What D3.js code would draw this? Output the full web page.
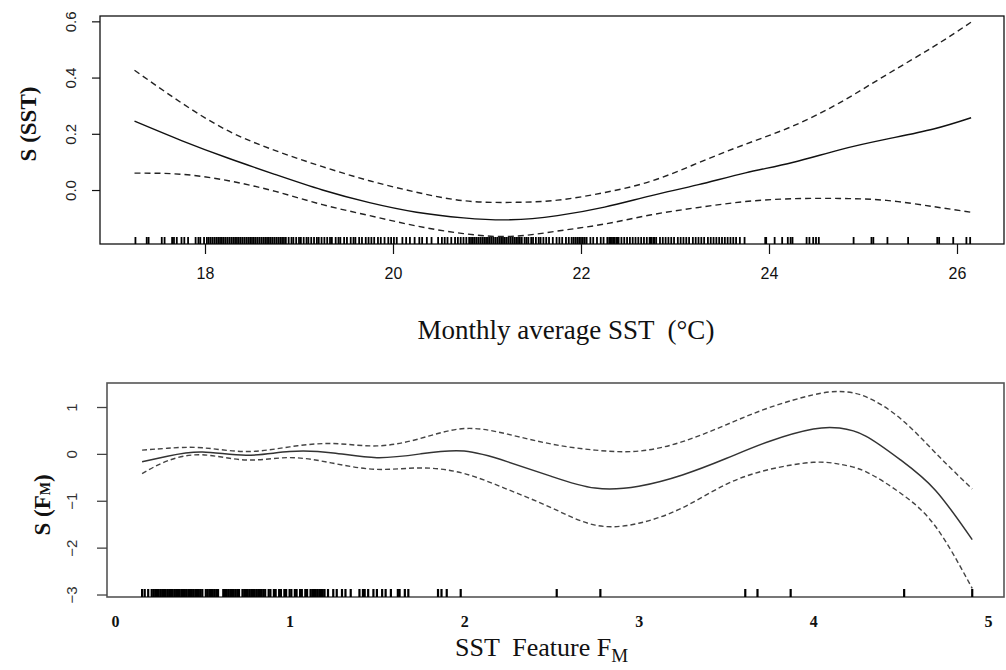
<!DOCTYPE html>
<html><head><meta charset="utf-8">
<script src="https://cdn.jsdelivr.net/npm/d3@7"></script>
<style>body{margin:0;background:#fff}svg{display:block}text{white-space:pre}</style>
</head><body>
<script>
// ---------- Top panel data: S(SST) ----------
const sstX     = [17.25,17.75,18.25,18.75,19.25,19.75,20.25,20.75,21.25,21.75,22.25,22.75,23.25,23.75,24.25,24.75,25.25,25.75,26.15];
const sstFit   = [0.245,0.176,0.113,0.055,0.000,-0.045,-0.079,-0.099,-0.106,-0.091,-0.061,-0.020,0.019,0.061,0.098,0.143,0.181,0.217,0.257];
const sstUpper = [0.426,0.310,0.210,0.140,0.083,0.033,-0.008,-0.038,-0.044,-0.036,-0.009,0.032,0.097,0.163,0.227,0.310,0.410,0.510,0.597];
const sstLower = [0.060,0.056,0.033,-0.005,-0.052,-0.091,-0.128,-0.155,-0.165,-0.146,-0.121,-0.088,-0.062,-0.041,-0.031,-0.030,-0.037,-0.059,-0.079];
const sstTicksX = [18,20,22,24,26];
const sstTicksY = [0.0,0.2,0.4,0.6];
const sstTickLabelsY = ["0.0","0.2","0.4","0.6"];
const sstRug = [17.26,17.38,17.40,17.54,17.57,17.65,17.67,17.70,17.75,17.78,17.82,17.90,17.93,17.95,17.99,
18.02,18.04,18.06,18.08,18.10,18.12,18.14,18.16,18.18,18.20,18.22,18.24,18.26,18.28,18.30,18.32,18.34,18.36,18.38,18.40,18.42,18.44,18.46,18.48,18.50,18.52,18.54,18.56,18.58,18.60,18.62,18.64,18.66,18.68,18.70,18.72,18.74,18.76,18.78,18.80,18.82,18.84,18.86,
18.89,18.92,18.94,18.97,19.00,19.02,19.05,19.08,19.10,19.13,19.16,19.19,19.21,19.24,19.27,19.30,19.33,19.35,
19.39,19.42,19.44,19.48,19.51,19.55,19.58,19.60,19.64,19.67,19.71,19.74,19.77,19.80,19.84,19.87,19.91,19.95,19.98,20.01,20.04,
20.10,20.14,20.18,20.23,20.28,20.31,20.36,20.41,
20.48,20.52,20.55,20.58,20.62,20.66,20.69,20.72,20.75,20.78,
20.81,20.83,20.85,20.87,20.89,20.91,20.93,20.95,20.97,20.99,21.01,21.03,21.05,21.07,21.09,21.11,21.13,21.15,21.17,21.19,21.21,21.23,21.25,21.27,21.29,21.31,21.33,21.35,21.37,21.40,21.42,21.44,21.47,21.49,21.52,21.55,21.57,21.60,21.63,21.66,
21.70,21.74,21.77,21.80,21.84,21.87,
21.90,21.92,21.94,21.96,21.98,22.00,22.02,22.04,22.06,
22.10,22.13,22.17,22.21,22.24,22.28,
22.30,22.31,22.32,22.34,22.35,22.36,22.38,22.39,22.40,
22.43,22.46,22.49,22.52,22.55,22.58,22.61,22.64,22.67,22.70,
22.73,22.74,22.75,22.77,22.78,22.80,
22.84,22.87,22.90,22.93,22.96,22.99,23.03,23.06,23.09,23.12,23.15,23.19,23.22,23.25,23.28,23.31,23.35,23.38,23.41,23.44,23.47,23.50,23.53,23.56,23.59,23.62,23.65,23.69,23.74,
23.96,23.97,24.06,24.14,24.20,24.23,24.25,24.40,24.43,24.47,24.50,24.53,24.90,25.09,25.11,25.26,25.48,25.79,25.81,25.96,26.10,26.14];

// ---------- Bottom panel data: S(FM) ----------
const fmX     = [0.155,0.3,0.5,0.75,1.0,1.25,1.5,1.75,2.0,2.25,2.5,2.75,3.0,3.25,3.5,3.75,4.0,4.15,4.3,4.5,4.7,4.91];
const fmFit   = [-0.17,-0.05,0.04,-0.03,0.05,0.02,-0.08,0.00,0.06,-0.17,-0.48,-0.73,-0.69,-0.45,-0.10,0.27,0.53,0.55,0.38,-0.13,-0.78,-1.83];
const fmUpper = [0.08,0.12,0.13,0.05,0.15,0.22,0.17,0.33,0.54,0.42,0.21,0.08,0.06,0.26,0.62,0.99,1.26,1.33,1.22,0.75,0.02,-0.75];
const fmLower = [-0.42,-0.15,-0.02,-0.13,-0.08,-0.20,-0.33,-0.30,-0.42,-0.76,-1.15,-1.52,-1.48,-1.15,-0.65,-0.33,-0.18,-0.22,-0.38,-0.84,-1.55,-2.87];
const fmTicksX = [0,1,2,3,4,5];
const fmTicksY = [1,0,-1,-2,-3];
const fmRug = [0.155,0.17,0.19,
0.21,0.22,0.23,0.24,0.25,0.26,0.27,0.28,0.29,0.30,0.31,0.32,0.33,0.34,0.35,0.36,0.37,0.38,0.39,0.40,0.41,0.42,0.43,0.44,0.45,0.46,0.47,0.48,0.49,0.50,
0.52,0.53,0.54,0.55,0.56,0.57,0.58,0.59,
0.62,0.63,0.64,0.65,0.66,0.67,0.68,0.69,0.70,0.71,
0.73,0.74,0.75,0.76,0.77,0.78,0.79,0.80,0.81,0.82,0.83,0.84,0.85,0.86,
0.88,0.89,0.91,0.92,0.94,0.95,0.97,0.98,1.00,1.01,1.03,1.04,1.06,1.07,1.09,1.10,1.12,1.13,1.14,1.15,1.16,1.17,1.18,1.19,1.20,
1.22,1.25,1.27,1.30,1.32,1.35,1.40,1.42,1.43,1.45,1.48,1.50,1.53,1.55,1.58,1.62,1.63,1.66,1.68,1.85,1.87,1.90,1.98,
2.53,2.78,3.61,3.68,3.87,4.52,4.91];

const W = 1006, H = 670;
const svg = d3.select("body").append("svg").attr("width", W).attr("height", H);
const SERIF = "'Liberation Serif', 'Times New Roman', serif";
const SANS = "'Liberation Sans', Arial, sans-serif";

// ================= TOP PANEL =================
const tb = {l:100, r:1004, t:16, b:244};
const xT = d3.scaleLinear().domain([16.883, 26.5]).range([tb.l, tb.r]);
const yT = d3.scaleLinear().domain([-0.192, 0.619]).range([tb.b, tb.t]);
const gT = svg.append("g");

gT.append("rect").attr("x", tb.l).attr("y", tb.t).attr("width", tb.r-tb.l).attr("height", tb.b-tb.t)
  .attr("fill","none").attr("stroke","#111").attr("stroke-width",1.3);

const axTx = gT.append("g").attr("transform",`translate(0,${tb.b})`)
  .call(d3.axisBottom(xT).tickValues(sstTicksX).tickSize(10).tickPadding(14).tickFormat(d3.format("d")));
axTx.select(".domain").remove();
axTx.selectAll("line").attr("stroke","#111").attr("stroke-width",1.2);
axTx.selectAll("text").attr("font-family",SANS).attr("font-size",16).attr("fill","#111");

const axTy = gT.append("g").attr("transform",`translate(${tb.l},0)`)
  .call(d3.axisLeft(yT).tickValues(sstTicksY).tickSize(8).tickFormat((d,i)=>sstTickLabelsY[i]));
axTy.select(".domain").remove();
axTy.selectAll("line").attr("stroke","#111").attr("stroke-width",1.2);
axTy.selectAll(".tick text").attr("font-family",SANS).attr("font-size",15).attr("fill","#222")
  .attr("text-anchor","middle").attr("x",0).attr("dy",0).attr("dominant-baseline","middle")
  .attr("transform","translate(-28,0) rotate(-90)");

gT.append("g").selectAll("line").data(sstRug).join("line")
  .attr("x1", d=>xT(d)).attr("x2", d=>xT(d)).attr("y1", tb.b).attr("y2", tb.b-7)
  .attr("stroke","#000").attr("stroke-width",1.8);

const lineT = (ys) => d3.line().x((d,i)=>xT(sstX[i])).y(d=>yT(d)).curve(d3.curveNatural)(ys);
gT.append("path").attr("d", lineT(sstFit)).attr("fill","none").attr("stroke","#111").attr("stroke-width",1.4);
gT.append("path").attr("d", lineT(sstUpper)).attr("fill","none").attr("stroke","#222").attr("stroke-width",1.4).attr("stroke-dasharray","6,4");
gT.append("path").attr("d", lineT(sstLower)).attr("fill","none").attr("stroke","#222").attr("stroke-width",1.4).attr("stroke-dasharray","6,4");

svg.append("text").attr("x", 566).attr("y", 339).attr("text-anchor","middle")
  .attr("font-family",SERIF).attr("font-size",27).attr("fill","#111")
  .text("Monthly average SST  (\u00B0C)");
svg.append("text").attr("transform","translate(36,124) rotate(-90)").attr("text-anchor","middle")
  .attr("font-family",SERIF).attr("font-weight","bold").attr("font-size",23).attr("fill","#111")
  .text("S (SST)");

// ================= BOTTOM PANEL =================
const bb = {l:107, r:1004, t:383, b:597};
const xB = d3.scaleLinear().domain([-0.046, 5.092]).range([bb.l, bb.r]);
const yB = d3.scaleLinear().domain([-3.053, 1.512]).range([bb.b, bb.t]);
const gB = svg.append("g");

gB.append("rect").attr("x", bb.l).attr("y", bb.t).attr("width", bb.r-bb.l).attr("height", bb.b-bb.t)
  .attr("fill","none").attr("stroke","#555").attr("stroke-width",1.6);

const axBx = gB.append("g").attr("transform",`translate(0,${bb.b})`)
  .call(d3.axisBottom(xB).tickValues(fmTicksX).tickSize(0).tickPadding(19).tickFormat(d3.format("d")));
axBx.select(".domain").remove();
axBx.selectAll("text").attr("font-family",SERIF).attr("font-weight","bold").attr("font-size",16).attr("fill","#111");

const axBy = gB.append("g").attr("transform",`translate(${bb.l},0)`)
  .call(d3.axisLeft(yB).tickValues(fmTicksY).tickSize(10).tickFormat(d3.format("d")));
axBy.select(".domain").remove();
axBy.selectAll("line").attr("stroke","#444").attr("stroke-width",1.3);
axBy.selectAll(".tick text").attr("font-family",SANS).attr("font-size",15).attr("fill","#333")
  .attr("text-anchor","middle").attr("x",0).attr("dy",0).attr("dominant-baseline","middle")
  .attr("transform","translate(-34,0) rotate(-90)");

gB.append("g").selectAll("line").data(fmRug).join("line")
  .attr("x1", d=>xB(d)).attr("x2", d=>xB(d)).attr("y1", bb.b).attr("y2", bb.b-8)
  .attr("stroke","#000").attr("stroke-width",2.2);

const lineB = (ys) => d3.line().x((d,i)=>xB(fmX[i])).y(d=>yB(d)).curve(d3.curveNatural)(ys);
gB.append("path").attr("d", lineB(fmFit)).attr("fill","none").attr("stroke","#333").attr("stroke-width",1.5);
gB.append("path").attr("d", lineB(fmUpper)).attr("fill","none").attr("stroke","#444").attr("stroke-width",1.4).attr("stroke-dasharray","5,3");
gB.append("path").attr("d", lineB(fmLower)).attr("fill","none").attr("stroke","#444").attr("stroke-width",1.4).attr("stroke-dasharray","5,3");

const xl = svg.append("text").attr("x", 455).attr("y", 656)
  .attr("font-family",SERIF).attr("font-size",26).attr("fill","#111");
xl.append("tspan").text("SST  Feature F");
xl.append("tspan").attr("dy",6).attr("font-size",19).text("M");

const yl = svg.append("text").attr("transform","translate(50,505) rotate(-90)").attr("text-anchor","middle")
  .attr("font-family",SERIF).attr("font-weight","bold").attr("font-size",23).attr("fill","#111");
yl.append("tspan").text("S (F");
yl.append("tspan").attr("font-size",14).text("M");
yl.append("tspan").text(")");
</script>
</body></html>
